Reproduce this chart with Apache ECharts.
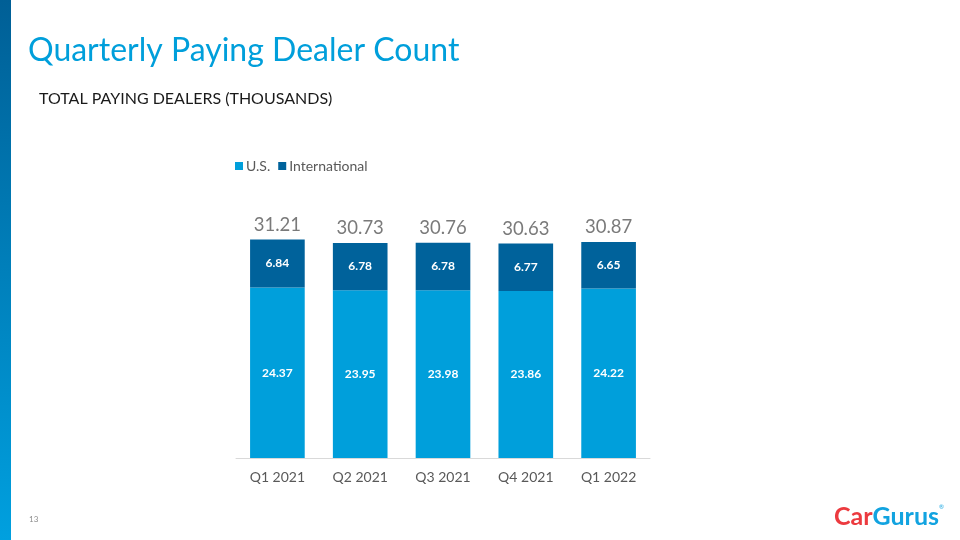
<!DOCTYPE html>
<html><head><meta charset="utf-8">
<script src="https://cdn.jsdelivr.net/npm/echarts@6/dist/echarts.min.js"></script>
<style>html,body{margin:0;padding:0;background:#fff}#c{width:960px;height:540px}</style>
</head><body><div id="c"></div>
<script>
const categories = ['Q1 2021','Q2 2021','Q3 2021','Q4 2021','Q1 2022'];
const usValues = [24.37, 23.95, 23.98, 23.86, 24.22];
const intlValues = [6.84, 6.78, 6.78, 6.77, 6.65];
const totals = [31.21, 30.73, 30.76, 30.63, 30.87];

const chart = echarts.init(document.getElementById('c'));
const F = 'Lato, "Noto Sans", sans-serif';
chart.setOption({
  animation: false,
  backgroundColor: '#fff',
  textStyle: {fontFamily: F},
  graphic: [
    {type:'rect', left:0, top:0, shape:{width:11, height:540}, style:{fill:new echarts.graphic.LinearGradient(0,0,0,1,[{offset:0,color:'#005f96'},{offset:1,color:'#00a0df'}])}},
    {type:'text', left:28, top:35, style:{text:'Quarterly Paying Dealer Count', fill:'#009fdb', font:'32px '+F}},
    {type:'text', left:39, top:91, style:{text:'TOTAL PAYING DEALERS (THOUSANDS)', fill:'#1a1a1a', font:'16px '+F}},
    {type:'text', left:29, top:515, style:{text:'13', fill:'#8c8c8c', font:'8px '+F}},
    {type:'text', left:834, top:504, style:{rich:{a:{fill:'#ec3a3f', font:'bold 25px '+F}, b:{fill:'#12a3e0', font:'bold 25px '+F}, r:{fill:'#12a3e0', font:'6px '+F, verticalAlign:'top'}}, text:'{a|Car}{b|Gurus}{r|®}'}}
  ],
  legend: {
    data: ['U.S.','International'],
    left: 230, top: 154,
    itemWidth: 8, itemHeight: 8, itemGap: 8,
    icon: 'rect',
    textStyle: {color:'#595959', fontSize:14, fontFamily:F, padding:[0,0,0,-2]}
  },
  grid: {left: 236, right: 310, top: 213, bottom: 82},
  xAxis: {
    type:'category', data: categories,
    axisLine:{lineStyle:{color:'#d9d9d9'}}, axisTick:{show:false},
    axisLabel:{color:'#595959', fontSize:14, fontFamily:F, margin:12}
  },
  yAxis: {type:'value', min:0, max:35, show:false, splitLine:{show:false}},
  series: [
    {name:'U.S.', type:'bar', stack:'t', data: usValues, barWidth:'66%', itemStyle:{color:'#009fdb'},
     label:{show:true, position:'inside', color:'#fff', fontWeight:'bold', fontSize:12, fontFamily:F, formatter: p => p.value.toFixed(2)}},
    {name:'International', type:'bar', stack:'t', data: intlValues, barWidth:'66%', itemStyle:{color:'#00629b'},
     label:{show:true, position:'inside', color:'#fff', fontWeight:'bold', fontSize:12, fontFamily:F, formatter: p => p.value.toFixed(2)}},
    {name:'Total', type:'scatter', data: totals, symbolSize:0, silent:true,
     label:{show:true, position:'top', distance:5, color:'#595959', fontSize:18.5, fontFamily:F, formatter: p => p.value.toFixed(2)}}
  ]
});
</script></body></html>
